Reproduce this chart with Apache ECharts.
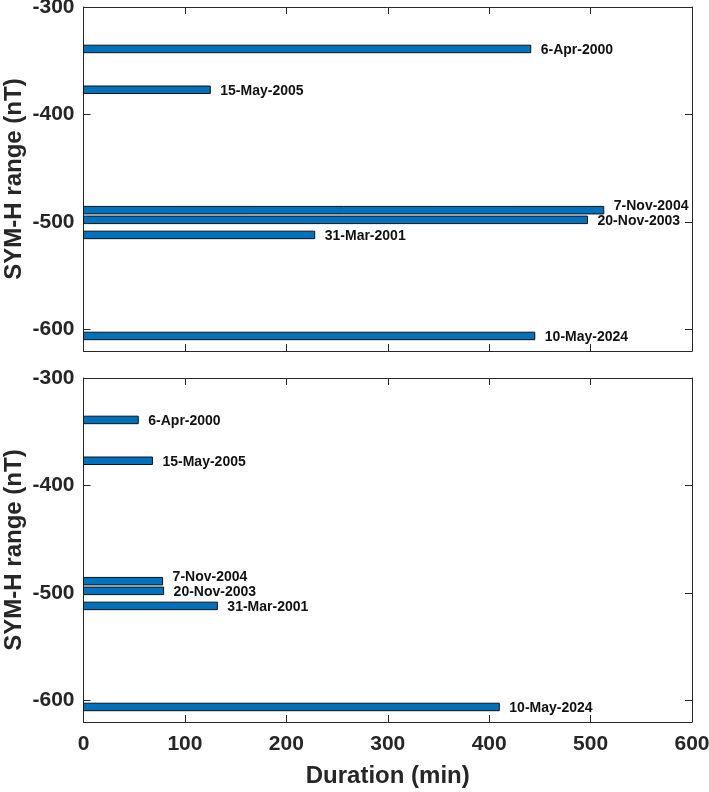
<!DOCTYPE html>
<html>
<head>
<meta charset="utf-8">
<script src="https://cdn.jsdelivr.net/npm/echarts@6/dist/echarts.min.js"></script>
<style>
html,body{margin:0;padding:0;background:#fff;}
#chart{width:709px;height:792px;}
</style>
</head>
<body>
<div id="chart"></div>
<script>
// ---- data ----
const events = ['6-Apr-2000', '15-May-2005', '7-Nov-2004', '20-Nov-2003', '31-Mar-2001', '10-May-2024'];
const symH = [-339, -377, -489, -498, -512, -606];
const durationTop = [441, 125, 513, 497, 228, 445];
const durationBottom = [54, 68, 78, 79, 132, 410];
const xTicks = [0, 100, 200, 300, 400, 500, 600];
const yTicks = [-600, -500, -400, -300];

// ---- styles ----
const FONT = "'Liberation Sans', Arial, Helvetica, sans-serif";
const AX = '#262626';
const BAR = '#0072BD';
const labelDy = {'7-Nov-2004': -4.5};

function renderBar(params, api) {
  const x = api.value(0), y = api.value(1);
  const p0 = api.coord([0, y]);
  const p1 = api.coord([x, y]);
  const h = 7.5;
  const name = events[params.dataIndex];
  const dy = (labelDy[name] !== undefined) ? labelDy[name] : 1;
  return {
    type: 'group',
    children: [
      {type: 'rect', shape: {x: p0[0], y: p0[1] - h / 2, width: p1[0] - p0[0], height: h},
       style: {fill: BAR, stroke: '#111', lineWidth: 1}},
      {type: 'text', x: p1[0] + 10, y: p1[1] + dy,
       style: {text: name, fill: '#111', font: 'bold 14px ' + FONT, textVerticalAlign: 'middle', textAlign: 'left'}}
    ]
  };
}

function makeData(durs) {
  return durs.map((d, i) => [d, symH[i]]);
}

const grids = [
  {left: 83.5, top: 7, width: 608.5, height: 344, outerBoundsMode: 'none', containLabel: false},
  {left: 83.5, top: 378, width: 608.5, height: 344, outerBoundsMode: 'none', containLabel: false}
];

function xAxisPair(gi, showLabels) {
  const base = {
    type: 'value', gridIndex: gi, min: 0, max: 600, interval: 100,
    axisLine: {show: true, onZero: false, lineStyle: {color: AX, width: 1}},
    axisTick: {show: true, inside: true, length: 7, lineStyle: {color: AX, width: 1}},
    splitLine: {show: false}
  };
  const bottom = Object.assign({}, base, {
    position: 'bottom',
    axisLabel: {show: showLabels, fontSize: 21, fontWeight: 'bold', color: AX, fontFamily: FONT, margin: 12,
      formatter: v => xTicks.indexOf(v) >= 0 ? String(v) : ''}
  });
  if (showLabels) {
    Object.assign(bottom, {name: 'Duration (min)', nameLocation: 'middle', nameGap: 42, nameMoveOverlap: false,
      nameTextStyle: {fontSize: 24, fontWeight: 'bold', color: AX, fontFamily: FONT}});
  }
  const top = Object.assign({}, base, {position: 'top', axisLabel: {show: false}});
  return [bottom, top];
}

function yAxisPair(gi) {
  const base = {
    type: 'value', gridIndex: gi, min: -620, max: -300,
    axisLine: {show: true, onZero: false, lineStyle: {color: AX, width: 1}},
    axisTick: {show: true, inside: true, length: 7, customValues: yTicks, lineStyle: {color: AX, width: 1}},
    splitLine: {show: false}
  };
  const left = Object.assign({}, base, {
    position: 'left',
    axisLabel: {show: true, customValues: yTicks, fontSize: 21, fontWeight: 'bold', color: AX, fontFamily: FONT, margin: 9},
    name: 'SYM-H range (nT)', nameLocation: 'middle', nameGap: 57, nameMoveOverlap: false,
    nameTextStyle: {fontSize: 24, fontWeight: 'bold', color: AX, fontFamily: FONT}
  });
  const right = Object.assign({}, base, {position: 'right', axisLabel: {show: false}});
  return [left, right];
}

const option = {
  animation: false,
  backgroundColor: '#fff',
  grid: grids,
  xAxis: [...xAxisPair(0, false), ...xAxisPair(1, true)],
  yAxis: [...yAxisPair(0), ...yAxisPair(1)],
  series: [
    {type: 'custom', xAxisIndex: 0, yAxisIndex: 0, renderItem: renderBar, data: makeData(durationTop), encode: {x: 0, y: 1}, clip: false},
    {type: 'custom', xAxisIndex: 2, yAxisIndex: 2, renderItem: renderBar, data: makeData(durationBottom), encode: {x: 0, y: 1}, clip: false}
  ]
};

const chart = echarts.init(document.getElementById('chart'), null, {renderer: 'canvas'});
chart.setOption(option);
</script>
</body>
</html>
